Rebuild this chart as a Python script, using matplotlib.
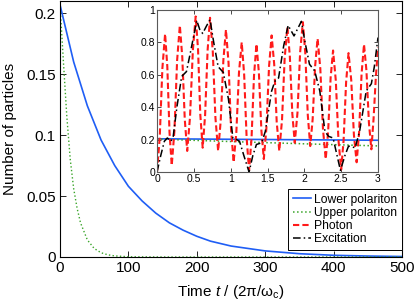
import matplotlib
matplotlib.use("Agg")
import matplotlib.pyplot as plt

plt.rcParams['font.family'] = ['Liberation Sans', 'DejaVu Sans']
plt.rcParams['mathtext.fontset'] = 'custom'
plt.rcParams['mathtext.rm'] = 'Liberation Sans'
plt.rcParams['mathtext.it'] = 'Liberation Sans:italic'

# main panel: particle numbers over a long time
t_lp = [0, 20, 40, 60, 80, 100, 120, 140, 160, 180, 200, 220, 250, 300,
        350, 400, 450, 500]
n_lp = [0.207, 0.160, 0.124, 0.096, 0.075, 0.058, 0.046, 0.036, 0.028,
        0.022, 0.017, 0.013, 0.009, 0.005, 0.0027, 0.0014, 0.0008, 0.0004]

t_up = [0, 5, 10, 15, 20, 25, 30, 40, 50, 60, 70, 80, 100, 150, 500]
n_up = [0.207, 0.160, 0.115, 0.080, 0.056, 0.040, 0.028, 0.014, 0.007,
        0.0035, 0.0018, 0.0009, 0.0002, 0.0, 0.0]

# inset: short-time dynamics
t_in_pol = [0, 1, 2, 3]
n_in_lp = [0.205, 0.202, 0.199, 0.196]
n_in_up = [0.203, 0.188, 0.174, 0.161]

t_photon = [0.00, 0.037, 0.073, 0.11, 0.14, 0.17, 0.20, 0.237, 0.273, 0.31,
            0.343, 0.377, 0.41, 0.448, 0.487, 0.525, 0.557, 0.588, 0.62,
            0.653, 0.687, 0.72, 0.757, 0.793, 0.83, 0.865, 0.901, 0.936,
            0.971, 1.005, 1.04, 1.077, 1.113, 1.15, 1.183, 1.217, 1.25,
            1.283, 1.317, 1.35, 1.383, 1.417, 1.45, 1.485, 1.521, 1.556,
            1.591, 1.625, 1.66, 1.697, 1.733, 1.77, 1.803, 1.837, 1.87,
            1.907, 1.943, 1.98, 2.013, 2.047, 2.08, 2.113, 2.147, 2.18,
            2.217, 2.253, 2.29, 2.323, 2.357, 2.39, 2.427, 2.463, 2.50,
            2.533, 2.567, 2.60, 2.637, 2.673, 2.71, 2.743, 2.777, 2.81,
            2.843, 2.877, 2.91, 2.94, 2.97, 3.00]
n_photon = [0.00, 0.213, 0.640, 0.853, 0.650, 0.243, 0.04, 0.256, 0.689,
            0.905, 0.711, 0.324, 0.13, 0.338, 0.753, 0.96, 0.758, 0.353,
            0.15, 0.351, 0.752, 0.952, 0.747, 0.336, 0.13, 0.317, 0.691,
            0.878, 0.674, 0.265, 0.06, 0.245, 0.615, 0.80, 0.603, 0.208,
            0.01, 0.205, 0.595, 0.79, 0.613, 0.258, 0.08, 0.271, 0.652,
            0.843, 0.665, 0.308, 0.13, 0.321, 0.703, 0.894, 0.716, 0.359,
            0.18, 0.366, 0.739, 0.925, 0.734, 0.351, 0.16, 0.326, 0.657,
            0.823, 0.637, 0.266, 0.08, 0.248, 0.583, 0.75, 0.566, 0.199,
            0.015, 0.195, 0.554, 0.734, 0.566, 0.229, 0.06, 0.242, 0.606,
            0.788, 0.626, 0.302, 0.14, 0.33, 0.58, 0.77]

t_exc = [0.00, 0.05, 0.10, 0.14, 0.19, 0.22, 0.27, 0.335, 0.40, 0.45, 0.54,
         0.58, 0.62, 0.67, 0.72, 0.77, 0.83, 0.90, 0.97, 1.03, 1.08, 1.12,
         1.18, 1.25, 1.30, 1.35, 1.42, 1.47, 1.556, 1.60, 1.65, 1.72, 1.78,
         1.86, 1.96, 2.01, 2.07, 2.14, 2.21, 2.28, 2.33, 2.39, 2.44, 2.49,
         2.55, 2.60, 2.69, 2.75, 2.84, 2.91, 2.95, 3.00]
n_exc = [0.00, 0.10, 0.19, 0.21, 0.19, 0.22, 0.40, 0.59, 0.62, 0.73, 0.935,
         0.88, 0.855, 0.90, 0.94, 0.80, 0.65, 0.615, 0.45, 0.21, 0.20, 0.19,
         0.10, 0.0, 0.10, 0.17, 0.18, 0.25, 0.50, 0.56, 0.58, 0.78, 0.905,
         0.84, 0.93, 0.80, 0.665, 0.625, 0.50, 0.25, 0.22, 0.21, 0.11, 0.01,
         0.10, 0.16, 0.15, 0.25, 0.50, 0.545, 0.65, 0.83]

blue = '#1f5ef5'
green = '#3aa52a'
red = '#ff1a1a'

fig = plt.figure(figsize=(4.15, 3.06), dpi=100)
ax = fig.add_axes([60 / 415, 1 - 257 / 306, 342 / 415, 256 / 306])

ax.plot(t_lp, n_lp, color=blue, lw=1.2)
ax.plot(t_up, n_up, color=green, lw=1.0, ls=':')
ax.set_xlim(0, 500)
ax.set_ylim(0, 0.21)
ax.set_xticks([0, 100, 200, 300, 400, 500])
ax.set_xticklabels(['0', '100', '200', '300', '400', '500'])
ax.set_yticks([0, 0.05, 0.1, 0.15, 0.2])
ax.set_yticklabels(['0', '0.05', '0.1', '0.15', '0.2'])
ax.tick_params(direction='in', top=True, right=True, length=4, width=0.6,
               labelsize=11, pad=3)
for s in ax.spines.values():
    s.set_linewidth(0.8)
ax.set_xlabel(r'Time $t$ / (2π/ω$_\mathrm{c}$)', fontsize=11)
ax.set_ylabel('Number of particles', fontsize=11)
ax.xaxis.set_label_coords(0.5, -0.1)
ax.yaxis.set_label_coords(-0.125, 0.5)

axi = fig.add_axes([157 / 415, 1 - 172 / 306, 221 / 415, 162 / 306])
l1, = axi.plot(t_in_pol, n_in_lp, color=blue, lw=1.2)
l2, = axi.plot(t_in_pol, n_in_up, color=green, lw=1.1, ls=':')
l3, = axi.plot(t_photon, n_photon, color=red, lw=1.5, ls=(0, (3, 1.5)))
l4, = axi.plot(t_exc, n_exc, color='black', lw=1.1, ls=(0, (5, 2, 1, 2)))
axi.set_xlim(0, 3)
axi.set_ylim(0, 1)
axi.set_xticks([0, 0.5, 1, 1.5, 2, 2.5, 3])
axi.set_xticklabels(['0', '0.5', '1', '1.5', '2', '2.5', '3'])
axi.set_yticks([0, 0.2, 0.4, 0.6, 0.8, 1])
axi.set_yticklabels(['0', '0.2', '0.4', '0.6', '0.8', '1'])
axi.tick_params(direction='in', top=True, right=True, length=3, width=0.5,
                labelsize=7.5, pad=1.5)
for s in axi.spines.values():
    s.set_linewidth(0.8)
    s.set_color('0.35')

leg = ax.legend([l1, l2, l3, l4],
                ['Lower polariton', 'Upper polariton', 'Photon', 'Excitation'],
                loc='lower right', bbox_to_anchor=(1.0, 0.027),
                borderaxespad=0, fontsize=8.7, handlelength=1.5,
                handletextpad=0.25, labelspacing=0.1, borderpad=0.4,
                fancybox=False, edgecolor='black', framealpha=1)
leg.get_frame().set_linewidth(0.7)

fig.savefig('out.png', dpi=100)
